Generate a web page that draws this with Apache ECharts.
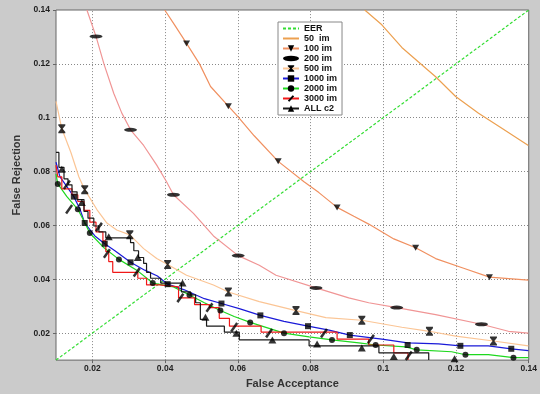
<!DOCTYPE html>
<html>
<head>
<meta charset="utf-8">
<script src="https://cdn.jsdelivr.net/npm/echarts@6/dist/echarts.min.js"></script>
<style>
html, body { margin: 0; padding: 0; background: #cbcbcb; }
#chart { width: 540px; height: 394px; }
</style>
</head>
<body>
<div id="chart"></div>
<script>
// axis ticks / grid
const ticks = [0.02, 0.04, 0.06, 0.08, 0.1, 0.12, 0.14];
const gridVals = [0.02, 0.04, 0.06, 0.08, 0.1, 0.12];

// curves [false acceptance, false rejection]
const eer = [[0.01, 0.01], [0.14, 0.14]];

const im50 = [[0.0949, 0.14], [0.0996, 0.1345], [0.1051, 0.1261], [0.1097, 0.1207], [0.1144, 0.1152],
  [0.1199, 0.1079], [0.1262, 0.1017], [0.1325, 0.0962], [0.1399, 0.0897]];

const im100 = [[0.0399, 0.14], [0.0426, 0.1345], [0.0459, 0.1276], [0.0495, 0.1199], [0.0525, 0.1116],
  [0.0574, 0.1043], [0.0599, 0.1006], [0.0645, 0.0933], [0.0711, 0.0838], [0.0782, 0.0762],
  [0.0823, 0.0722], [0.0873, 0.0667], [0.0919, 0.0634], [0.0960, 0.0605], [0.1029, 0.0550],
  [0.1089, 0.0517], [0.1144, 0.0477], [0.1221, 0.0441], [0.1292, 0.0408], [0.1399, 0.0397]];
const im100Marks = [[0.0459, 0.1276], [0.0574, 0.1043], [0.0711, 0.0838], [0.0873, 0.0667],
  [0.1089, 0.0517], [0.1292, 0.0408]];

const im200 = [[0.0185, 0.14], [0.0210, 0.1302], [0.0232, 0.1199], [0.0259, 0.1090], [0.0281, 0.1017],
  [0.0305, 0.0955], [0.0341, 0.0897], [0.0377, 0.0824], [0.0404, 0.0762], [0.0423, 0.0714],
  [0.0478, 0.0645], [0.0533, 0.0561], [0.0601, 0.0488], [0.0659, 0.0452], [0.0705, 0.0415],
  [0.0815, 0.0368], [0.0905, 0.0331], [0.0960, 0.0313], [0.1037, 0.0295], [0.1144, 0.0269],
  [0.1270, 0.0233], [0.1344, 0.0207], [0.1399, 0.0200]];
const im200Marks = [[0.0210, 0.1302], [0.0305, 0.0955], [0.0423, 0.0714], [0.0601, 0.0488],
  [0.0815, 0.0368], [0.1037, 0.0295], [0.1270, 0.0233]];

const im500 = [[0.0100, 0.1061], [0.0116, 0.0959], [0.0141, 0.0871], [0.0163, 0.0780], [0.0179, 0.0733],
  [0.0212, 0.0660], [0.0240, 0.0609], [0.0267, 0.0583], [0.0303, 0.0565], [0.0341, 0.0514],
  [0.0377, 0.0477], [0.0407, 0.0455], [0.0459, 0.0415], [0.0533, 0.0379], [0.0574, 0.0353],
  [0.0659, 0.0317], [0.0760, 0.0284], [0.0842, 0.0258], [0.0941, 0.0248], [0.1051, 0.0222],
  [0.1127, 0.0207], [0.1199, 0.0189], [0.1303, 0.0171], [0.1399, 0.0153]];
const im500Marks = [[0.0116, 0.0959], [0.0179, 0.0733], [0.0303, 0.0565], [0.0407, 0.0455],
  [0.0574, 0.0353], [0.0760, 0.0284], [0.0941, 0.0248], [0.1127, 0.0207], [0.1303, 0.0171]];

const im1000 = [[0.0100, 0.0835], [0.0111, 0.0780], [0.0130, 0.0744], [0.0149, 0.0707], [0.0166, 0.0660],
  [0.0179, 0.0609], [0.0207, 0.0561], [0.0234, 0.0532], [0.0262, 0.0506], [0.0305, 0.0463],
  [0.0344, 0.0434], [0.0379, 0.0412], [0.0407, 0.0382], [0.0453, 0.0361], [0.0508, 0.0328],
  [0.0555, 0.0310], [0.0604, 0.0291], [0.0662, 0.0266], [0.0727, 0.0244], [0.0793, 0.0226],
  [0.0851, 0.0211], [0.0908, 0.0193], [0.0996, 0.0178], [0.1067, 0.0164], [0.1152, 0.0160],
  [0.1212, 0.0153], [0.1289, 0.0153], [0.1352, 0.0142], [0.1399, 0.0135]];
const im1000Marks = [[0.0149, 0.0707], [0.0179, 0.0609], [0.0234, 0.0532], [0.0305, 0.0463],
  [0.0407, 0.0382], [0.0555, 0.0310], [0.0662, 0.0266], [0.0793, 0.0226], [0.0908, 0.0193],
  [0.1067, 0.0156], [0.1212, 0.0153], [0.1352, 0.0142]];

const im2000 = [[0.0100, 0.0791], [0.0105, 0.0754], [0.0130, 0.0707], [0.0160, 0.0660], [0.0177, 0.0616],
  [0.0193, 0.0572], [0.0232, 0.0517], [0.0273, 0.0474], [0.0322, 0.0434], [0.0366, 0.0386],
  [0.0423, 0.0372], [0.0467, 0.0342], [0.0508, 0.0313], [0.0552, 0.0284], [0.0590, 0.0262],
  [0.0634, 0.0240], [0.0686, 0.0218], [0.0727, 0.0200], [0.0796, 0.0186], [0.0859, 0.0175],
  [0.0933, 0.0164], [0.0979, 0.0156], [0.1062, 0.0149], [0.1092, 0.0138], [0.1188, 0.0131],
  [0.1226, 0.0120], [0.1289, 0.0120], [0.1358, 0.0109], [0.1399, 0.0109]];
const im2000Marks = [[0.0105, 0.0754], [0.0160, 0.0660], [0.0193, 0.0572], [0.0273, 0.0474],
  [0.0366, 0.0386], [0.0467, 0.0342], [0.0552, 0.0284], [0.0634, 0.0240], [0.0727, 0.0200],
  [0.0859, 0.0175], [0.0979, 0.0156], [0.1092, 0.0138], [0.1226, 0.0120], [0.1358, 0.0109]];

// stepped curves (step: 'end')
const im3000 = [[0.0100, 0.0824], [0.0105, 0.0780], [0.0116, 0.0736], [0.0144, 0.0714], [0.0160, 0.0689],
  [0.0177, 0.0656], [0.0193, 0.0612], [0.0210, 0.0576], [0.0229, 0.0543], [0.0237, 0.0503],
  [0.0245, 0.0466], [0.0256, 0.0426], [0.0325, 0.0404], [0.0349, 0.0379], [0.0385, 0.0372],
  [0.0437, 0.0331], [0.0481, 0.0306], [0.0522, 0.0295], [0.0549, 0.0255], [0.0577, 0.0226],
  [0.0664, 0.0204], [0.0873, 0.0178], [0.0960, 0.0156], [0.1029, 0.0127], [0.1068, 0.0100]];
const im3000Marks = [[0.0130, 0.0751], [0.0136, 0.0660], [0.0218, 0.0594], [0.0240, 0.0496],
  [0.0322, 0.0426], [0.0442, 0.0331], [0.0522, 0.0295], [0.0590, 0.0222], [0.0686, 0.0200],
  [0.0837, 0.0200], [0.0966, 0.0178], [0.1070, 0.0116]];

const allC2 = [[0.0100, 0.0871], [0.0108, 0.0816], [0.0122, 0.0773], [0.0133, 0.0751], [0.0144, 0.0725],
  [0.0158, 0.0696], [0.0177, 0.0652], [0.0188, 0.0627], [0.0204, 0.0598], [0.0218, 0.0576],
  [0.0237, 0.0554], [0.0305, 0.0536], [0.0314, 0.0506], [0.0327, 0.0481], [0.0341, 0.0459],
  [0.0349, 0.0426], [0.0360, 0.0404], [0.0388, 0.0386], [0.0445, 0.0353], [0.0470, 0.0342],
  [0.0484, 0.0313], [0.0497, 0.0251], [0.0514, 0.0226], [0.0563, 0.0204], [0.0604, 0.0175],
  [0.0796, 0.0153], [0.0988, 0.0127], [0.1125, 0.0100]];
const allC2Marks = [[0.0116, 0.0809], [0.0171, 0.0685], [0.0245, 0.0558], [0.0325, 0.0481],
  [0.0448, 0.0386], [0.0511, 0.0259], [0.0596, 0.0200], [0.0695, 0.0175], [0.0818, 0.0160],
  [0.0941, 0.0145], [0.1029, 0.0113], [0.1196, 0.0105]];

const names = ['EER', '50  im', '100 im', '200 im', '500 im', '1000 im', '2000 im', '3000 im', 'ALL c2'];

const slash = 'path://M0,8 L6,0 L8,1.5 L2,9.5 Z';
const hourglass = 'path://M0,0 L8,0 L8,1.5 L5,5 L8,8.5 L8,10 L0,10 L0,8.5 L3,5 L0,1.5 Z';
const ellipse = 'path://M0,2 A6,2 0 1 1 12,2 A6,2 0 1 1 0,2 Z';

function curve(name, pts, color, marks, symbol, size, rotate, step) {
  const list = [{
    name: name,
    type: 'line',
    data: pts,
    step: step || false,
    symbol: symbol || 'none',
    symbolRotate: rotate || 0,
    showSymbol: false,
    lineStyle: { color: color, width: 1.2 },
    itemStyle: { color: symbol ? '#000' : 'rgba(0,0,0,0)' },
    z: 3
  }];
  if (marks) {
    list.push({
      name: name,
      type: 'scatter',
      data: marks,
      symbol: symbol,
      symbolSize: size,
      symbolRotate: rotate || 0,
      itemStyle: { color: '#000' },
      z: 5
    });
  }
  return list;
}

const gridLines = gridVals.map(v => ({ xAxis: v })).concat(gridVals.map(v => ({ yAxis: v })));

const series = [
  {
    name: 'EER',
    type: 'line',
    data: eer,
    symbol: 'none',
    lineStyle: { color: '#33dd33', width: 1.2, type: [3, 2] },
    itemStyle: { color: 'rgba(0,0,0,0)' },
    z: 3,
    markLine: {
      silent: true,
      symbol: ['none', 'none'],
      label: { show: false },
      lineStyle: { color: '#888', width: 1, type: [1, 2] },
      data: gridLines,
      z: 1
    }
  }
].concat(
  curve('50  im', im50, '#eca050'),
  curve('100 im', im100, '#f09060'),
  curve('200 im', im200, '#f09595', im200Marks, ellipse, [13, 4]),
  curve('500 im', im500, '#fbc595', im500Marks, hourglass, [7, 9]),
  curve('1000 im', im1000, '#1a1ad8', im1000Marks, 'rect', [6, 6]),
  curve('2000 im', im2000, '#1ed81e', im2000Marks, 'circle', 6),
  curve('3000 im', im3000, '#f01818', im3000Marks, slash, [8, 10], 0, 'end'),
  curve('ALL c2', allC2, '#1a1a1a', allC2Marks, 'triangle', [8, 7], 0, 'end')
);
// 100 im markers (downward triangles)
series[2].symbol = 'triangle';
series[2].symbolRotate = 180;
series[2].itemStyle = { color: '#000' };
series.splice(3, 0, {
  name: '100 im', type: 'scatter', data: im100Marks, symbol: 'triangle', symbolRotate: 180,
  symbolSize: [7, 6], itemStyle: { color: '#000' }, z: 5
});

const legendData = names.map(n => n === '200 im' ? { name: n, icon: ellipse } : { name: n });

const chart = echarts.init(document.getElementById('chart'), null, { renderer: 'canvas' });
chart.setOption({
  animation: false,
  backgroundColor: '#cbcbcb',
  textStyle: { fontFamily: 'Liberation Sans, Arial, sans-serif' },
  grid: {
    left: 56, right: 10, top: 10, bottom: 28,
    show: true, backgroundColor: '#fff', borderColor: '#666', borderWidth: 1
  },
  legend: {
    data: legendData,
    orient: 'vertical',
    left: 278,
    top: 22,
    itemWidth: 16,
    itemHeight: 8,
    itemGap: 1,
    padding: [2, 5, 2, 4],
    backgroundColor: '#fff',
    borderColor: '#888',
    borderWidth: 1,
    borderRadius: 0,
    textStyle: { fontSize: 9, fontWeight: 'bold', color: '#111', lineHeight: 9 }
  },
  xAxis: {
    type: 'value',
    min: 0.01,
    max: 0.14,
    name: 'False Acceptance',
    nameLocation: 'middle',
    nameGap: 12,
    nameTextStyle: { fontSize: 11, fontWeight: 'bold', color: '#333' },
    axisLine: { show: false },
    axisTick: { show: true, customValues: ticks, length: 3, lineStyle: { color: '#666' } },
    axisLabel: { customValues: ticks, fontSize: 8.5, fontWeight: 'bold', color: '#222', margin: 4 },
    splitLine: { show: false }
  },
  yAxis: {
    type: 'value',
    min: 0.01,
    max: 0.14,
    name: 'False Rejection',
    nameLocation: 'middle',
    nameGap: 20,
    nameTextStyle: { fontSize: 11, fontWeight: 'bold', color: '#333', padding: [0, 0, 0, 20] },
    axisLine: { show: false },
    axisTick: { show: true, customValues: ticks, length: 3, lineStyle: { color: '#666' } },
    axisLabel: { customValues: ticks, fontSize: 8.5, fontWeight: 'bold', color: '#222', margin: 6 },
    splitLine: { show: false }
  },
  series: series
});
</script>
</body>
</html>
